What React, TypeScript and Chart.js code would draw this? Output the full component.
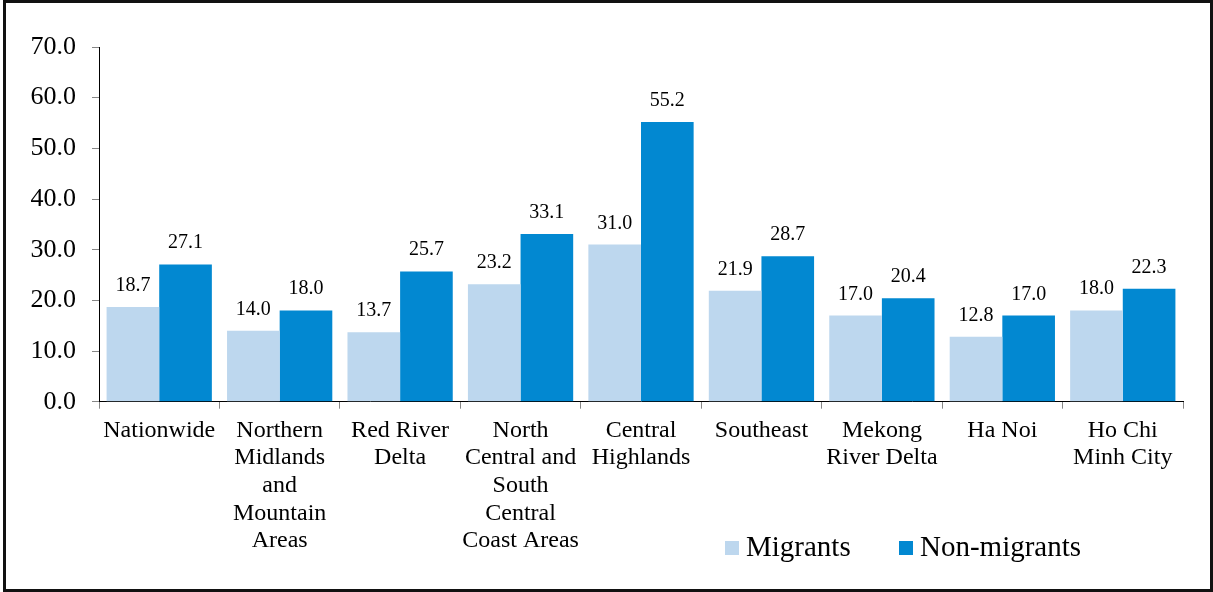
import React, { useEffect, useRef } from "react";
import { Chart, registerables } from "chart.js";

Chart.register(...registerables);

const categories: (string | string[])[] = [
  "Nationwide",
  ["Northern", "Midlands", "and", "Mountain", "Areas"],
  ["Red River", "Delta"],
  ["North", "Central and", "South", "Central", "Coast Areas"],
  ["Central", "Highlands"],
  "Southeast",
  ["Mekong", "River Delta"],
  "Ha Noi",
  ["Ho Chi", "Minh City"],
];

const migrants = [18.7, 14.0, 13.7, 23.2, 31.0, 21.9, 17.0, 12.8, 18.0];
const nonMigrants = [27.1, 18.0, 25.7, 33.1, 55.2, 28.7, 20.4, 17.0, 22.3];

const FONT = "'Liberation Serif', 'Times New Roman', serif";

const dataLabelPlugin = {
  id: "dataLabels",
  afterDatasetsDraw(chart: any) {
    const ctx = chart.ctx;
    ctx.save();
    ctx.font = `20px ${FONT}`;
    ctx.fillStyle = "#000";
    ctx.textAlign = "center";
    ctx.textBaseline = "alphabetic";
    chart.data.datasets.forEach((ds: any, i: number) => {
      const meta = chart.getDatasetMeta(i);
      meta.data.forEach((bar: any, j: number) => {
        const v = ds.data[j] as number;
        ctx.fillText(v.toFixed(1), bar.x, bar.y - 16);
      });
    });
    ctx.restore();
  },
};

const legendPlugin = {
  id: "customLegend",
  afterDraw(chart: any) {
    const ctx = chart.ctx;
    ctx.save();
    ctx.font = `29px ${FONT}`;
    ctx.textBaseline = "alphabetic";
    ctx.textAlign = "left";
    const starts = [725, 899];
    chart.data.datasets.forEach((ds: any, i: number) => {
      const x = starts[i];
      ctx.fillStyle = ds.backgroundColor;
      ctx.fillRect(x, 541, 14, 14);
      ctx.fillStyle = "#000";
      ctx.fillText(ds.label, x + 21, 556);
    });
    ctx.restore();
  },
};

export default function App() {
  const ref = useRef<HTMLCanvasElement | null>(null);
  useEffect(() => {
    if (!ref.current) return;
    const chart = new Chart(ref.current, {
      type: "bar",
      data: {
        labels: categories,
        datasets: [
          {
            label: "Migrants",
            data: migrants,
            backgroundColor: "#BDD7EE",
            categoryPercentage: 0.874,
            barPercentage: 1,
          },
          {
            label: "Non-migrants",
            data: nonMigrants,
            backgroundColor: "#0288D1",
            categoryPercentage: 0.874,
            barPercentage: 1,
          },
        ],
      },
      plugins: [dataLabelPlugin, legendPlugin],
      options: {
        animation: false,
        responsive: false,
        maintainAspectRatio: false,
        layout: { padding: { top: 47, right: 30, bottom: 0, left: 0 } },
        plugins: {
          legend: { display: false },
          tooltip: { enabled: false },
        },
        scales: {
          x: {
            afterFit(scale: any) {
              scale.height = 190.3;
            },
            grid: {
              display: true,
              drawOnChartArea: false,
              drawTicks: true,
              tickLength: 7,
              color: "#868686",
              offset: true,
            },
            border: { display: true, color: "#000", width: 1 },
            ticks: {
              color: "#000",
              font: { family: FONT, size: 24, lineHeight: 1.15 },
              padding: 8,
              maxRotation: 0,
              minRotation: 0,
              autoSkip: false,
            },
          },
          y: {
            min: 0,
            max: 70,
            afterFit(scale: any) {
              scale.width = 99;
            },
            grid: {
              display: true,
              drawOnChartArea: false,
              drawTicks: true,
              tickLength: 7,
              color: "#868686",
            },
            border: { display: true, color: "#000", width: 1 },
            ticks: {
              stepSize: 10,
              color: "#000",
              padding: 16,
              font: { family: FONT, size: 26 },
              callback: (v: any) => Number(v).toFixed(1),
            },
          },
        },
      },
    });
    return () => chart.destroy();
  }, []);

  return (
    <div
      style={{
        position: "fixed",
        left: 0,
        top: 0,
        width: 1213,
        height: 592,
        background: "#fff",
      }}
    >
      <canvas
        ref={ref}
        width={1213}
        height={592}
        style={{ position: "absolute", left: 0, top: 0, width: 1213, height: 592 }}
      />
      <div
        style={{
          position: "absolute",
          left: 3,
          top: 0,
          width: 1210,
          height: 592,
          border: "3px solid #111",
          boxSizing: "border-box",
          pointerEvents: "none",
        }}
      />
    </div>
  );
}
